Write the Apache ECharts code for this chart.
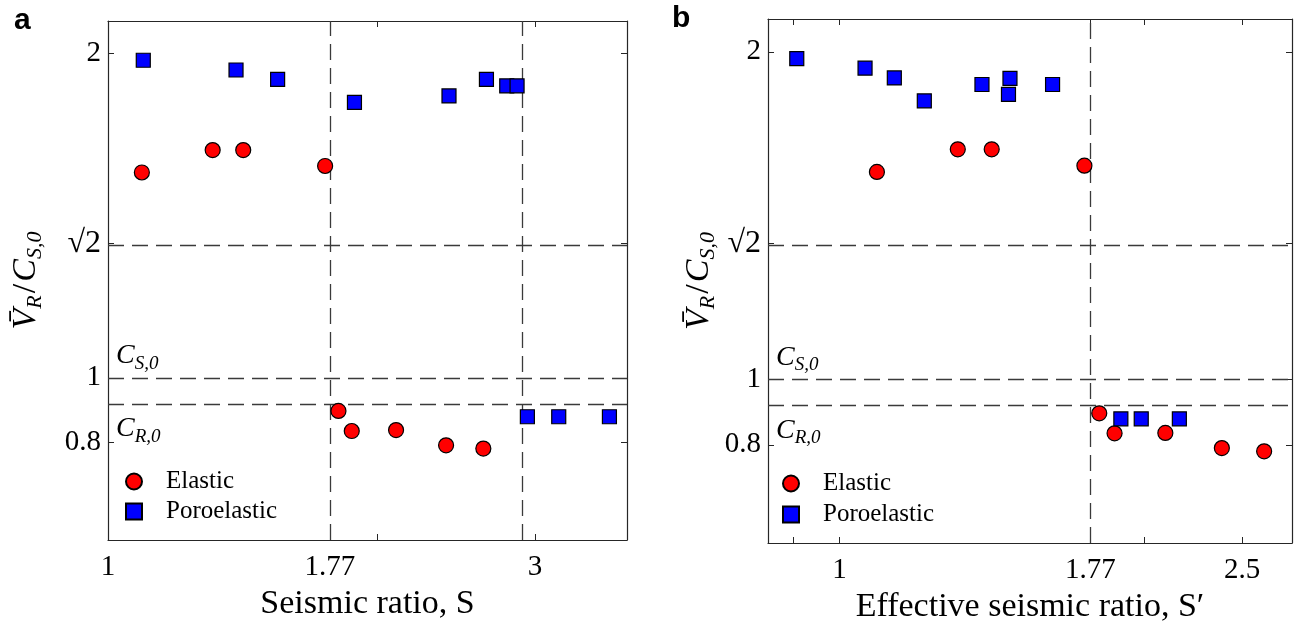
<!DOCTYPE html>
<html>
<head>
<meta charset="utf-8">
<script src="https://cdn.jsdelivr.net/npm/echarts@6/dist/echarts.min.js"></script>
<style>
  html, body { margin: 0; padding: 0; background: #fff; }
  #chart { width: 1299px; height: 629px; }
</style>
</head>
<body>
<div id="chart"></div>
<script>
  // panel a: seismic ratio S
  const elasticS = [1.091, 1.309, 1.416, 1.748, 1.809, 1.872, 2.098, 2.386, 2.626];
  const elasticV = [1.633, 1.702, 1.702, 1.653, 0.898, 0.836, 0.839, 0.792, 0.782];
  const poroS = [1.095, 1.390, 1.547, 1.885, 2.404, 2.647, 2.789, 2.864, 2.941, 3.188, 3.632];
  const poroV = [1.979, 1.949, 1.920, 1.849, 1.869, 1.920, 1.900, 1.900, 0.880, 0.880, 0.880];

  // panel b: effective seismic ratio S'
  const elasticSeff = [1.089, 1.309, 1.414, 1.746, 1.806, 1.870, 2.099, 2.387, 2.628];
  const elasticVeff = [1.633, 1.702, 1.702, 1.652, 0.896, 0.835, 0.836, 0.790, 0.780];
  const poroSeff = [0.9075, 1.060, 1.133, 1.213, 1.383, 1.474, 1.469, 1.624, 1.897, 1.987, 2.167];
  const poroVeff = [1.979, 1.950, 1.920, 1.850, 1.900, 1.919, 1.870, 1.900, 0.879, 0.879, 0.879];

  // reference lines (sqrt2, C_S0 = 1, C_R0)
  const hLines = [Math.SQRT2, 1, 0.9194];
  const vLinesA = [1.77, 2.9];
  const vLinesB = [1.77];

  // ticks / labels
  const yTicks = [0.8, 1, Math.SQRT2, 2];
  const xLabelsA = [1, 1.77, 3];
  const xTicksA = [1.77, 2, 3];
  const xLabelsB = [1, 1.77, 2.5];
  const xTicksB = [0.9, 1, 1.77, 2, 2.5];

  const serif = 'Liberation Serif';
  const axisColor = '#262626';

  const zip = (xs, ys) => xs.map((x, i) => [x, ys[i]]);
  const fmtNum = v => String(parseFloat(Number(v).toPrecision(4)));

  const mathRich = (big, small, subH) => ({
    v: {fontFamily: serif, fontStyle: 'italic', fontSize: big, lineHeight: big + 4, verticalAlign: 'top', color: '#000'},
    s: {fontFamily: serif, fontStyle: 'italic', fontSize: small, lineHeight: subH, color: '#000'},
    n: {fontFamily: serif, fontSize: big, lineHeight: big + 4, verticalAlign: 'top', color: '#000', padding: [0, 2, 0, 2]}
  });

  function xAxes(grid, min, max, labels, ticks, title) {
    return [{
      type: 'log', gridIndex: grid, min: min, max: max, position: 'bottom',
      name: title, nameLocation: 'middle', nameGap: 41,
      nameTextStyle: {fontFamily: serif, fontSize: 34, color: '#000'},
      axisLine: {show: true, lineStyle: {color: axisColor, width: 1.2}},
      axisTick: {show: true, inside: true, length: 6, customValues: ticks, lineStyle: {color: axisColor}},
      axisLabel: {show: true, customValues: labels, margin: 13,
        fontFamily: serif, fontSize: 29, color: '#000', formatter: fmtNum},
      splitLine: {show: false}, minorTick: {show: false}
    }, {
      type: 'log', gridIndex: grid, min: min, max: max, position: 'top',
      axisLine: {show: true, lineStyle: {color: axisColor, width: 1.2}},
      axisTick: {show: true, inside: true, length: 6, customValues: ticks, lineStyle: {color: axisColor}},
      axisLabel: {show: false}, splitLine: {show: false}
    }];
  }

  function yAxes(grid, nameGap) {
    return [{
      type: 'value', gridIndex: grid, min: 0.5, max: 2.1, position: 'left',
      name: '{v|V\u0304}{s|R}{n|/}{v|C}{s|S,0}', nameLocation: 'middle', nameGap: nameGap, nameRotate: 90,
      nameTextStyle: {rich: mathRich(34, 22, 52)},
      axisLine: {show: true, lineStyle: {color: axisColor, width: 1.2}},
      axisTick: {show: true, inside: true, length: 6, customValues: yTicks, lineStyle: {color: axisColor}},
      axisLabel: {show: true, customValues: yTicks, margin: 7, fontFamily: serif, fontSize: 29, color: '#000',
        formatter: v => Math.abs(v - Math.SQRT2) < 1e-6 ? '{r|\u221A2}' : fmtNum(v),
        rich: {r: {fontFamily: serif, fontSize: 32, color: '#000'}}},
      splitLine: {show: false}
    }, {
      type: 'value', gridIndex: grid, min: 0.5, max: 2.1, position: 'right',
      axisLine: {show: true, lineStyle: {color: axisColor, width: 1.2}},
      axisTick: {show: true, inside: true, length: 6, customValues: yTicks, lineStyle: {color: axisColor}},
      axisLabel: {show: false}, splitLine: {show: false}
    }];
  }

  const lineRich = mathRich(28, 19, 44);

  function refLines(vLines) {
    const data = hLines.map((y, i) => {
      const item = {yAxis: y};
      if (i === 1) {
        item.label = {show: true, position: 'insideStartTop', distance: [8, -8], formatter: '{v|C}{s|S,0}', rich: lineRich};
      } else if (i === 2) {
        item.label = {show: true, position: 'insideStartBottom', distance: [8, 11], formatter: '{v|C}{s|R,0}', rich: lineRich};
      }
      return item;
    });
    vLines.forEach(x => data.push({xAxis: x}));
    return {
      silent: true, symbol: 'none', z: 1, animation: false,
      label: {show: false},
      lineStyle: {type: [16, 8], color: '#3a3a3a', width: 1.3},
      emphasis: {disabled: true},
      data: data
    };
  }

  function scatter(name, grid, xs, ys, marks) {
    const isElastic = name === 'Elastic';
    const s = {
      name: name, type: 'scatter', xAxisIndex: grid * 2, yAxisIndex: grid * 2,
      symbol: isElastic ? 'circle' : 'rect', symbolSize: isElastic ? 15 : 14,
      itemStyle: {color: isElastic ? '#ff0000' : '#0000ff', borderColor: '#000', borderWidth: 1.2, opacity: 1},
      z: 3, data: zip(xs, ys)
    };
    if (marks) s.markLine = marks;
    return s;
  }

  const legendBase = {
    orient: 'vertical', itemWidth: 16, itemHeight: 16,
    data: ['Elastic', 'Poroelastic'], selectedMode: false,
    textStyle: {fontFamily: serif, fontSize: 25, color: '#000', padding: [0, 0, 0, 19]}
  };

  const chart = echarts.init(document.getElementById('chart'), null, {renderer: 'canvas'});
  chart.setOption({
    animation: false,
    backgroundColor: '#fff',
    grid: [
      {left: 108, top: 21, width: 519, height: 519, containLabel: false, outerBoundsMode: 'none'},
      {left: 768, top: 19, width: 524, height: 524, containLabel: false, outerBoundsMode: 'none'}
    ],
    xAxis: [
      ...xAxes(0, 1, 3.8, xLabelsA, xTicksA, 'Seismic ratio, S'),
      ...xAxes(1, 0.85, 2.8, xLabelsB, xTicksB, 'Effective seismic ratio, S\u2032')
    ],
    yAxis: [...yAxes(0, 47), ...yAxes(1, 34)],
    legend: [
      Object.assign({left: 120, top: 464, itemGap: 5}, legendBase),
      Object.assign({left: 777, top: 466, itemGap: 6}, legendBase)
    ],
    graphic: [
      {type: 'text', left: 14, top: 6, style: {text: 'a', font: 'bold 30px "Liberation Sans"', fill: '#000'}},
      {type: 'text', left: 672, top: 4, style: {text: 'b', font: 'bold 30px "Liberation Sans"', fill: '#000'}}
    ],
    series: [
      scatter('Elastic', 0, elasticS, elasticV, refLines(vLinesA)),
      scatter('Poroelastic', 0, poroS, poroV),
      scatter('Elastic', 1, elasticSeff, elasticVeff, refLines(vLinesB)),
      scatter('Poroelastic', 1, poroSeff, poroVeff)
    ]
  });
</script>
</body>
</html>
